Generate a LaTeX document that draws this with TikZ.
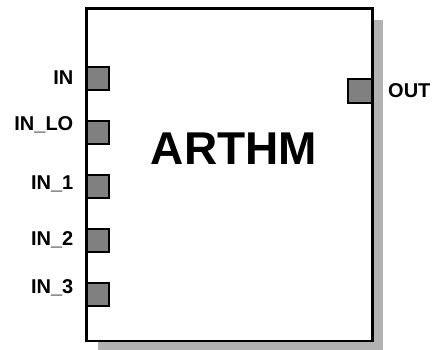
\documentclass[tikz,border=0pt]{standalone}
\usepackage{fontspec}
\setmainfont{Liberation Sans}
\begin{document}
\begin{tikzpicture}[x=1pt,y=-1pt,
  shadowbox/.style={fill=black!30,draw=none},
  mainbox/.style={fill=white,draw=black,line width=2.8pt},
  port/.style={draw=black,fill=black!50,line width=2pt,inner sep=0pt,minimum width=22pt,minimum height=23pt},
  outport/.style={port,minimum width=24pt,minimum height=24pt},
  lbl/.style={inner sep=0pt,font=\fontsize{20}{20}\selectfont\bfseries},
  title/.style={inner sep=0pt,font=\fontsize{46}{46}\selectfont\bfseries}]
\useasboundingbox (0,0) rectangle (433,350);
\fill[shadowbox] (98,20) rectangle (383.3,350);
\draw[mainbox] (86.8,8.7) rectangle (372.3,341);
\node[port] (pin) at (98,78.5) {};
\node[port] (pinlo) at (98,132) {};
\node[port] (pin1) at (98,186) {};
\node[port] (pin2) at (98,240) {};
\node[port] (pin3) at (98,294) {};
\node[outport] (pout) at (360,91) {};
\node[lbl,anchor=base east] (lin) at (73.5,84.5) {IN};
\node[lbl,anchor=base east] (linlo) at (73.5,130) {IN\_LO};
\node[lbl,anchor=base east] (lin1) at (73.5,189.5) {IN\_1};
\node[lbl,anchor=base east] (lin2) at (73.5,245) {IN\_2};
\node[lbl,anchor=base east] (lin3) at (73.5,293) {IN\_3};
\node[lbl,anchor=base west] (lout) at (388,98) {OUT};
\node[title,anchor=base] (ttl) at (234,164) {ARTHM};
\end{tikzpicture}
\end{document}
